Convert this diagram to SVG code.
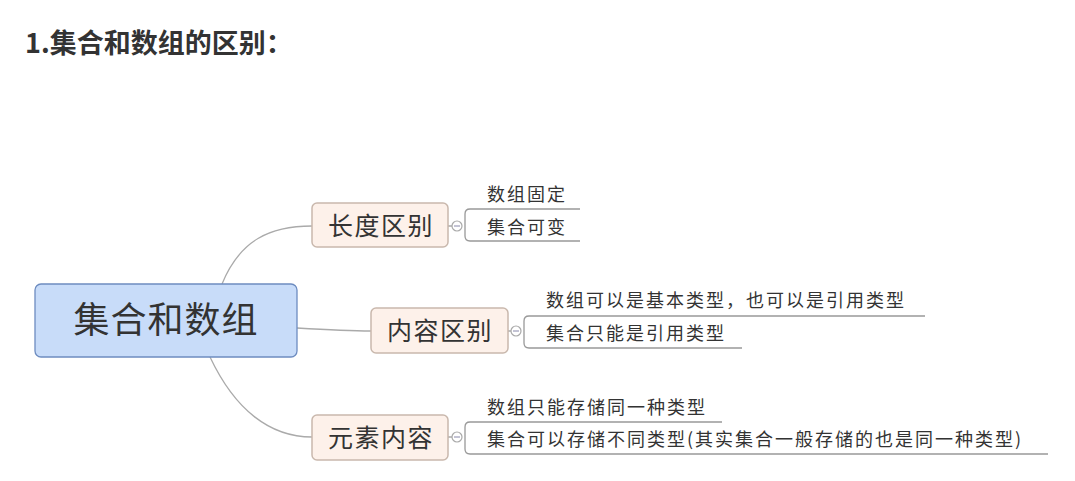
<svg xmlns="http://www.w3.org/2000/svg" width="1075" height="481" viewBox="0 0 1075 481">
<style>
text{font-family:"Noto Sans CJK SC","Liberation Sans",sans-serif;fill:#333}
.t{font-size:18px;letter-spacing:2px}
.b{font-size:25px;letter-spacing:1.5px}
.lf{fill:none;stroke:#999;stroke-width:1.3}
.br{fill:#fdf1ea;stroke:#c9b8ad;stroke-width:1.5}
.c{fill:#fff;stroke:#aaa;stroke-width:1.2}
</style>
<rect width="1075" height="481" fill="#fff"/>
<text x="25" y="53" font-size="27" font-weight="bold">1.集合和数组的区别：</text>
<g id="connectors" fill="none" stroke="#aaa" stroke-width="1.3">
<path d="M222,284 C240,240 270,226 312,226"/>
<path d="M297,328 C330,330 350,331 371,331"/>
<path d="M210,357 C235,410 270,437 312,437"/>
<path d="M448,226 H452 M508,331 H511 M448,437 H452"/>
</g>
<g id="root"><rect x="35" y="284" width="262" height="73" rx="6" fill="#c8dcf9" stroke="#6d8cc0" stroke-width="1.3"/><text x="166" y="333" text-anchor="middle" font-size="36" letter-spacing="1">集合和数组</text></g>
<g id="n1"><rect class="br" x="312" y="203" width="136" height="44" rx="5"/><text class="b" x="381" y="235" text-anchor="middle">长度区别</text><circle class="c" cx="457" cy="226" r="5"/><line x1="454" y1="226" x2="460" y2="226" stroke="#88a"/>
<path class="lf" d="M580,209 H470 Q465,209 465,214 V236 Q465,241 470,241 H580"/>
<text class="t" x="487" y="201">数组固定</text><text class="t" x="487" y="234">集合可变</text></g>
<g id="n2"><rect class="br" x="371" y="308" width="137" height="45" rx="5"/><text class="b" x="440" y="340" text-anchor="middle">内容区别</text><circle class="c" cx="516" cy="331" r="5"/><line x1="513" y1="331" x2="519" y2="331" stroke="#88a"/>
<path class="lf" d="M925,316 H529 Q524,316 524,321 V343 Q524,348 529,348 H742"/>
<text class="t" x="546" y="307">数组可以是基本类型，也可以是引用类型</text><text class="t" x="546" y="340">集合只能是引用类型</text></g>
<g id="n3"><rect class="br" x="312" y="415" width="136" height="45" rx="5"/><text class="b" x="381" y="447" text-anchor="middle">元素内容</text><circle class="c" cx="457" cy="437" r="5"/><line x1="454" y1="437" x2="460" y2="437" stroke="#88a"/>
<path class="lf" d="M722,422 H470 Q465,422 465,427 V449 Q465,454 470,454 H1048"/>
<text class="t" x="487" y="414">数组只能存储同一种类型</text><text class="t" x="487" y="446">集合可以存储不同类型(其实集合一般存储的也是同一种类型)</text></g>
</svg>
